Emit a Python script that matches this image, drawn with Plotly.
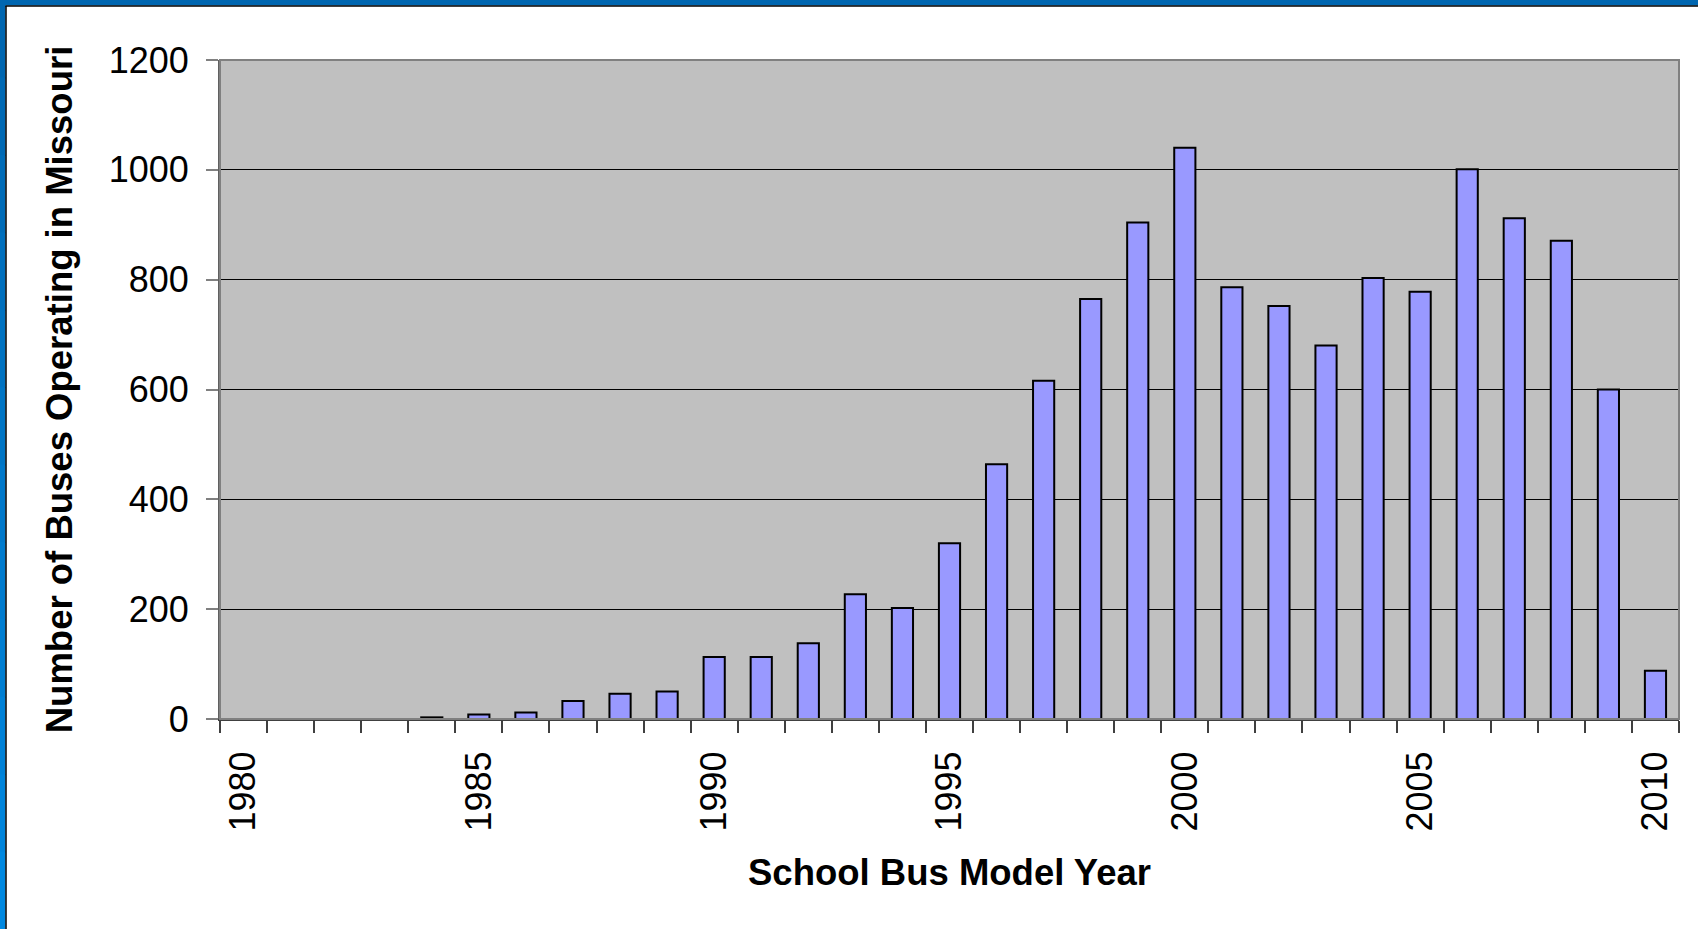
import plotly.graph_objects as go

years = list(range(1980, 2011))
buses = [0, 0, 0, 0, 3, 8, 12, 33, 46, 50,
         113, 113, 138, 227, 202, 320, 464, 616, 765, 904,
         1040, 786, 752, 680, 803, 778, 1001, 912, 871, 600,
         88]
tick_labels = [str(y) if y % 5 == 0 else "" for y in years]
y_ticks = [0, 200, 400, 600, 800, 1000, 1200]

W, H = 1698, 929
L, R, T, B = 220, 19, 60, 210
pw, ph = W - L - R, H - T - B

def px(x):
    return (x - L) / pw

def py(y):
    return 1 - (y - T) / ph

FONT = "Liberation Sans, Arial, sans-serif"

fig = go.Figure()
fig.add_trace(go.Bar(
    x=[str(y) for y in years], y=buses,
    marker=dict(color="#9999FF", line=dict(color="black", width=2)),
))

shapes = []
# plot area border (gray)
shapes.append(dict(type="rect", xref="paper", yref="paper", x0=0, x1=1, y0=0, y1=1,
                   line=dict(color="#808080", width=2), fillcolor="rgba(0,0,0,0)", layer="above"))
# top blue frame band
shapes.append(dict(type="rect", xref="paper", yref="paper", x0=px(0), x1=px(W), y0=py(5.5), y1=py(0),
                   line=dict(width=0), fillcolor="#0066B0", layer="above"))
shapes.append(dict(type="line", xref="paper", yref="paper", x0=px(5), x1=px(W), y0=py(6), y1=py(6),
                   line=dict(color="black", width=1.5), layer="above"))
# left blue frame band (approximate gradient)
n = 12
c0 = (0, 0x66, 0xB0)
c1 = (0, 0x88, 0xE0)
for i in range(n):
    t = i / (n - 1)
    c = tuple(int(c0[k] + (c1[k] - c0[k]) * t) for k in range(3))
    y0p = i * H / n
    y1p = (i + 1) * H / n + 1
    shapes.append(dict(type="rect", xref="paper", yref="paper", x0=px(0), x1=px(5.5),
                       y0=py(y1p), y1=py(y0p), line=dict(width=0),
                       fillcolor="rgb(%d,%d,%d)" % c, layer="above"))
shapes.append(dict(type="line", xref="paper", yref="paper", x0=px(6), x1=px(6), y0=py(H), y1=py(6),
                   line=dict(color="black", width=1.5), layer="above"))

fig.update_layout(
    width=W, height=H,
    margin=dict(l=L, r=R, t=T, b=B, autoexpand=False),
    paper_bgcolor="white", plot_bgcolor="#C0C0C0",
    bargap=0.55, showlegend=False,
    font=dict(family=FONT, color="black"),
    shapes=shapes,
    xaxis=dict(
        type="category", tickmode="array", tickvals=[str(y) for y in years], ticktext=tick_labels,
        tickson="boundaries", ticks="outside", ticklen=12, tickwidth=1.5, tickcolor="#404040",
        tickangle=-90, tickfont=dict(size=36, family=FONT), ticklabelstandoff=16,
        showline=True, linecolor="#404040", linewidth=2, showgrid=False,
        title=dict(text="<b>School Bus Model Year</b>", font=dict(size=36.5, family=FONT), standoff=29),
        automargin=False,
    ),
    yaxis=dict(
        range=[0, 1200], tickmode="array", tickvals=y_ticks,
        ticks="outside", ticklen=12, tickwidth=1.5, tickcolor="#808080",
        tickfont=dict(size=36, family=FONT), ticklabelstandoff=10,
        showline=True, linecolor="#606060", linewidth=2,
        showgrid=True, gridcolor="black", gridwidth=1, zeroline=False,
        title=dict(text="<b>Number of Buses Operating in Missouri</b>", font=dict(size=36.5, family=FONT), standoff=25),
        automargin=False,
    ),
)

fig.write_html("out.html", config={"displayModeBar": False},
               post_script="document.body.style.margin='0px';")
